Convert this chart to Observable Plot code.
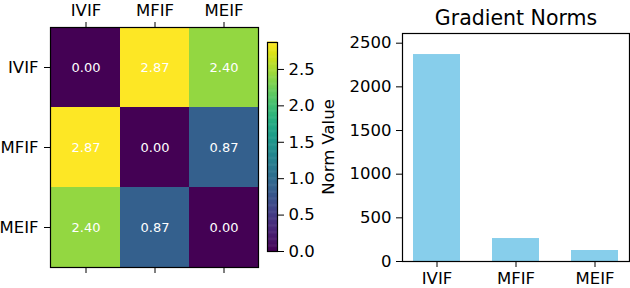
<!DOCTYPE html>
<html><head><meta charset="utf-8">
<script src="https://cdn.jsdelivr.net/npm/d3@7"></script>
<script src="https://cdn.jsdelivr.net/npm/@observablehq/plot@0.6"></script>
<style>
body{margin:0;background:#fff;}
#wrap{position:relative;width:630px;height:288px;overflow:hidden;}
#wrap svg{position:absolute;left:0;top:0;}
</style></head><body><div id="wrap"></div>
<script>
// ---- data ----
const methods = ["IVIF", "MFIF", "MEIF"];
const normRowIVIF = [0.00, 2.87, 2.40];
const normRowMFIF = [2.87, 0.00, 0.87];
const normRowMEIF = [2.40, 0.87, 0.00];
const gradientNorms = [2370, 263, 126];
const colorbarTicks = [0, 0.5, 1.0, 1.5, 2.0, 2.5];
const barTicks = [0, 500, 1000, 1500, 2000, 2500];
const colorMax = 2.87;
const barMax = 2611;

const normMatrix = [normRowIVIF, normRowMFIF, normRowMEIF];
const cells = [];
normMatrix.forEach((row, i) => row.forEach((v, j) => cells.push({row: methods[i], col: methods[j], value: v})));
const barData = methods.map((m, i) => ({method: m, value: gradientNorms[i]}));
const rampSteps = 240;
const ramp = d3.range(rampSteps).map(i => ({v0: i * colorMax / rampSteps, v1: (i + 1) * colorMax / rampSteps}));

const W = 630, H = 288;
const FS = 16.5;
const base = {
  width: W, height: H,
  style: {background: "transparent", fontFamily: "DejaVu Sans", fontSize: FS + "px", color: "black", overflow: "visible"}
};
const colorScale = {type: "linear", scheme: "viridis", domain: [0, colorMax]};

// ---- heatmap ----
const heat = Plot.plot({
  ...base,
  marginLeft: 50, marginRight: W - 258, marginTop: 27, marginBottom: H - 267,
  x: {type: "band", domain: methods, padding: 0},
  y: {type: "band", domain: methods, padding: 0},
  color: colorScale,
  marks: [
    Plot.cell(cells, {x: "col", y: "row", fill: "value"}),
    Plot.text(cells, {x: "col", y: "row", text: d => d.value.toFixed(2), fill: "white", fontSize: 13}),
    Plot.axisX({anchor: "top", tickSize: 6, tickPadding: 5.5, label: null, fontSize: FS}),
    Plot.axisX({anchor: "bottom", tickSize: 6, tickFormat: () => "", label: null}),
    Plot.axisY({anchor: "left", tickSize: 6, tickPadding: 6, label: null, fontSize: FS}),
    Plot.frame({stroke: "black", strokeWidth: 1.2})
  ]
});

// ---- colorbar ----
const cbar = Plot.plot({
  ...base,
  marginLeft: 267, marginRight: W - 277, marginTop: 42, marginBottom: H - 251,
  x: {domain: [0, 1], axis: null},
  y: {domain: [0, colorMax]},
  color: colorScale,
  marks: [
    Plot.rect(ramp, {x1: 0, x2: 1, y1: "v0", y2: d => d.v1 + colorMax / rampSteps * 0.6, fill: d => (d.v0 + d.v1) / 2}),
    Plot.axisY(colorbarTicks, {anchor: "right", tickSize: 6, tickPadding: 5, tickFormat: d => d.toFixed(1), label: null, fontSize: FS}),
    Plot.frame({stroke: "black", strokeWidth: 1.2}),
    Plot.text(["Norm Value"], {frameAnchor: "right", dx: 51, rotate: -90, textAnchor: "middle", lineAnchor: "middle", fontSize: FS, fill: "black"})
  ]
});

// ---- bar chart ----
const bars = Plot.plot({
  ...base,
  marginLeft: 402, marginRight: 1, marginTop: 33, marginBottom: H - 261,
  x: {type: "band", domain: methods, paddingInner: 0.4, paddingOuter: 0.13},
  y: {domain: [0, barMax]},
  marks: [
    Plot.barY(barData, {x: "method", y: "value", fill: "#87ceeb"}),
    Plot.axisX({anchor: "bottom", tickSize: 6, tickPadding: 5, label: null, fontSize: FS}),
    Plot.axisY(barTicks, {anchor: "left", tickSize: 6, tickPadding: 5, tickFormat: d => String(d), label: null, fontSize: FS}),
    Plot.frame({stroke: "black", strokeWidth: 1.2}),
    Plot.text(["Gradient Norms"], {frameAnchor: "top", dy: -9, lineAnchor: "bottom", textAnchor: "middle", fontSize: 20.5, fill: "black"})
  ]
});

const wrap = document.getElementById("wrap");
wrap.append(heat, cbar, bars);
</script>
</body></html>
